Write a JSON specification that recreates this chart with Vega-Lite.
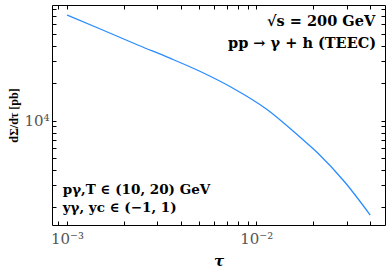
{
  "$schema": "https://vega.github.io/schema/vega-lite/v6.json",
  "width": 333,
  "height": 220,
  "autosize": {"type": "none"},
  "padding": {"left": 52, "right": 6, "top": 5, "bottom": 46},
  "config": {
    "view": {"stroke": "black", "strokeWidth": 1},
    "axis": {
      "grid": false,
      "zindex": 1,
      "domain": false,
      "tickColor": "black",
      "labelFont": "DejaVu Serif",
      "labelFontSize": 15,
      "labelColor": "#555",
      "labelFlush": false,
      "labelOverlap": false
    }
  },
  "layer": [
    {
      "data": {"values": [
        {"tau": 0.001, "xs": 70930},
        {"tau": 0.0015, "xs": 54690},
        {"tau": 0.0024, "xs": 40260},
        {"tau": 0.0035, "xs": 31800},
        {"tau": 0.005, "xs": 25070},
        {"tau": 0.0075, "xs": 18290},
        {"tau": 0.0114, "xs": 12270},
        {"tau": 0.017, "xs": 7360},
        {"tau": 0.021, "xs": 5520},
        {"tau": 0.0295, "xs": 3162},
        {"tau": 0.04, "xs": 1729}
      ]},
      "mark": {"type": "line", "color": "#2a8cff", "strokeWidth": 1.3, "interpolate": "monotone", "clip": true},
      "encoding": {
        "x": {
          "field": "tau", "type": "quantitative",
          "scale": {"type": "log", "domain": [0.000833, 0.0479], "nice": false},
          "axis": {
            "orient": "bottom",
            "offset": -4,
            "values": [0.0009, 0.001, 0.002, 0.003, 0.004, 0.005, 0.006, 0.007, 0.008, 0.009, 0.01, 0.02, 0.03, 0.04],
            "labelExpr": "datum.value == 0.001 ? '10⁻³' : (datum.value == 0.01 ? '10⁻²' : '')",
            "tickSize": 4,
            "labelPadding": 6,
            "title": "τ",
            "titleFont": "DejaVu Serif",
            "titleFontStyle": "italic",
            "titleFontWeight": "bold",
            "titleFontSize": 15,
            "titleColor": "black",
            "titlePadding": 7
          }
        },
        "y": {
          "field": "xs", "type": "quantitative",
          "scale": {"type": "log", "domain": [1437, 85400], "nice": false},
          "axis": {
            "orient": "left",
            "offset": -4,
            "values": [2000, 3000, 4000, 5000, 6000, 7000, 8000, 9000, 10000, 20000, 30000, 40000, 50000, 60000, 70000, 80000],
            "labelExpr": "datum.value == 10000 ? '10⁴' : ''",
            "tickSize": 4,
            "labelPadding": 3,
            "title": "dΣ/dτ [pb]",
            "titleFont": "Liberation Serif",
            "titleFontWeight": "bold",
            "titleFontSize": 12,
            "titleColor": "black",
            "titlePadding": 3
          }
        }
      }
    },
    {
      "data": {"values": [{"label": "√s = 200 GeV"}]},
      "mark": {"type": "text", "align": "right", "baseline": "middle", "font": "DejaVu Serif", "fontWeight": "bold", "fontSize": 14.5, "color": "black"},
      "encoding": {
        "text": {"field": "label"},
        "x": {
          "datum": 0.0425, "type": "quantitative",
          "axis": {
            "orient": "top",
            "offset": -4,
            "values": [0.0009, 0.001, 0.002, 0.003, 0.004, 0.005, 0.006, 0.007, 0.008, 0.009, 0.01, 0.02, 0.03, 0.04],
            "labels": false,
            "title": null,
            "tickSize": 4
          }
        },
        "y": {
          "datum": 62230, "type": "quantitative",
          "axis": {
            "orient": "right",
            "values": [2000, 3000, 4000, 5000, 6000, 7000, 8000, 9000, 10000, 20000, 30000, 40000, 50000, 60000, 70000, 80000],
            "labels": false,
            "title": null,
            "tickSize": -4
          }
        }
      }
    },
    {
      "data": {"values": [{"label": "pp → γ + h (TEEC)"}]},
      "mark": {"type": "text", "align": "right", "baseline": "middle", "font": "DejaVu Serif", "fontWeight": "bold", "fontSize": 14.5, "color": "black"},
      "encoding": {
        "text": {"field": "label"},
        "x": {"datum": 0.043, "type": "quantitative", "axis": null},
        "y": {"datum": 41400, "type": "quantitative", "axis": null}
      }
    },
    {
      "data": {"values": [{"label": "pγ,T ∈ (10, 20) GeV"}]},
      "mark": {"type": "text", "align": "left", "baseline": "middle", "font": "DejaVu Serif", "fontWeight": "bold", "fontSize": 13.5, "color": "black"},
      "encoding": {
        "text": {"field": "label"},
        "x": {"datum": 0.000949, "type": "quantitative", "axis": null},
        "y": {"datum": 2751, "type": "quantitative", "axis": null}
      }
    },
    {
      "data": {"values": [{"label": "yγ, yc ∈ (−1, 1)"}]},
      "mark": {"type": "text", "align": "left", "baseline": "middle", "font": "DejaVu Serif", "fontWeight": "bold", "fontSize": 13.5, "color": "black"},
      "encoding": {
        "text": {"field": "label"},
        "x": {"datum": 0.000949, "type": "quantitative", "axis": null},
        "y": {"datum": 1970, "type": "quantitative", "axis": null}
      }
    }
  ],
  "resolve": {"axis": {"x": "independent", "y": "independent"}}
}
